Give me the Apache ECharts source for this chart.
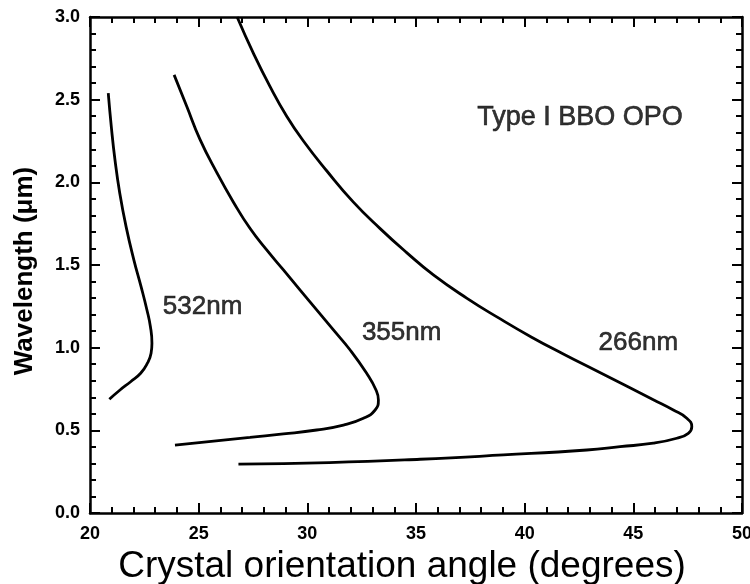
<!DOCTYPE html>
<html>
<head>
<meta charset="utf-8">
<title>Type I BBO OPO</title>
<script src="https://cdn.jsdelivr.net/npm/echarts@6/dist/echarts.min.js"></script>
<style>
  html, body { margin: 0; padding: 0; background: #fff; }
  #chart { width: 750px; height: 584px; }
</style>
</head>
<body>
<div id="chart"></div>
<script>
// 曲线数据，从原图读出 (角度, 波长)
var angle532 = [20.84, 20.98, 21.15, 21.37, 21.66, 22.02, 22.35, 22.62, 22.78, 22.85, 22.81, 22.64, 22.33, 21.87, 21.38, 20.89];
var wl532 = [2.539, 2.337, 2.135, 1.934, 1.732, 1.53, 1.369, 1.228, 1.127, 1.027, 0.966, 0.906, 0.845, 0.794, 0.744, 0.688];

var angle355 = [23.87, 24.45, 25.06, 25.83, 26.60, 27.36, 28.13, 28.90, 29.66, 30.43, 31.20, 31.97, 32.73, 33.16, 33.27, 33.12, 32.58, 31.66, 30.43, 28.90, 27.36, 23.91];
var wl355 = [2.65, 2.46, 2.26, 2.06, 1.88, 1.722, 1.591, 1.47, 1.349, 1.228, 1.107, 0.986, 0.845, 0.744, 0.684, 0.623, 0.573, 0.532, 0.502, 0.478, 0.458, 0.411];

var angle266 = [26.77, 27.52, 28.28, 29.05, 29.82, 30.89, 32.12, 33.35, 34.57, 35.80, 37.33, 38.80, 40.30, 41.80, 43.30, 44.80, 45.92, 46.84, 47.46, 47.69, 47.53, 47.00, 45.92, 44.39, 42.86, 39.02, 35.19, 31.00, 26.83];
var wl266 = [3.0, 2.78, 2.58, 2.40, 2.25, 2.07, 1.88, 1.72, 1.575, 1.44, 1.30, 1.18, 1.065, 0.96, 0.86, 0.76, 0.685, 0.623, 0.573, 0.522, 0.482, 0.452, 0.422, 0.401, 0.381, 0.351, 0.325, 0.305, 0.296];

// 图中文字标注
var noteText = ['Type I BBO OPO', '532nm', '355nm', '266nm'];
var noteX = [42.55, 25.18, 34.34, 45.23];
var noteY = [2.393, 1.248, 1.092, 1.027];
var noteSize = [27, 26, 26, 26];

var FONT = '"Liberation Sans", Arial, Helvetica, sans-serif';

function pairs(xs, ys) {
	return xs.map(function (x, i) { return [x, ys[i]]; });
}

function curve(name, xs, ys) {
	return {
		name: name,
		type: 'line',
		smooth: 0.5,
		showSymbol: false,
		symbol: 'none',
		lineStyle: { color: '#000', width: 2.8 },
		data: pairs(xs, ys)
	};
}

function axisBase(extra) {
	var a = {
		type: 'value',
		axisLine: { show: true, onZero: false, lineStyle: { color: '#000', width: 2.5 } },
		axisTick: { show: true, inside: true, length: 10, lineStyle: { color: '#000', width: 2 } },
		minorTick: { show: true, splitNumber: 5, length: 6, lineStyle: { color: '#000', width: 2 } },
		splitLine: { show: false },
		minorSplitLine: { show: false }
	};
	for (var k in extra) a[k] = extra[k];
	return a;
}

var chart = echarts.init(document.getElementById('chart'));

chart.setOption({
	animation: false,
	backgroundColor: '#fff',
	grid: { left: 90, right: 8, top: 17, bottom: 71, containLabel: false, outerBoundsMode: 'none' },
	xAxis: [
		axisBase({
			min: 20, max: 50, interval: 5, position: 'bottom',
			axisLabel: { color: '#000', fontSize: 18, fontWeight: 'bold', fontFamily: FONT, margin: 12 },
			name: 'Crystal orientation angle (degrees)',
			nameLocation: 'middle',
			nameGap: 35,
			nameTextStyle: { color: '#000', fontSize: 37, fontFamily: FONT, padding: [0, 28, 0, 0] }
		}),
		axisBase({
			min: 20, max: 50, interval: 5, position: 'top',
			axisLabel: { show: false }
		})
	],
	yAxis: [
		axisBase({
			min: 0, max: 3, interval: 0.5, position: 'left',
			axisLabel: {
				color: '#000', fontSize: 18, fontWeight: 'bold', fontFamily: FONT, margin: 10,
				formatter: function (v) { return v.toFixed(1); }
			},
			name: 'Wavelength (\u03bcm)',
			nameLocation: 'middle',
			nameGap: 52,
			nameTextStyle: { color: '#000', fontSize: 26, fontWeight: 'bold', fontFamily: FONT, padding: [0, 12, 0, 0] }
		}),
		axisBase({
			min: 0, max: 3, interval: 0.5, position: 'right',
			axisLabel: { show: false }
		})
	],
	series: [
		curve('532nm', angle532, wl532),
		curve('355nm', angle355, wl355),
		curve('266nm', angle266, wl266),
		{
			type: 'scatter',
			symbolSize: 0,
			silent: true,
			label: {
				show: true,
				position: 'inside',
				color: '#000',
				textBorderColor: '#000',
				textBorderWidth: 0.6,
				fontFamily: FONT,
				formatter: function (p) { return p.name; }
			},
			data: noteText.map(function (t, i) {
				return { name: t, value: [noteX[i], noteY[i]], label: { fontSize: noteSize[i] } };
			})
		}
	]
});
</script>
</body>
</html>
